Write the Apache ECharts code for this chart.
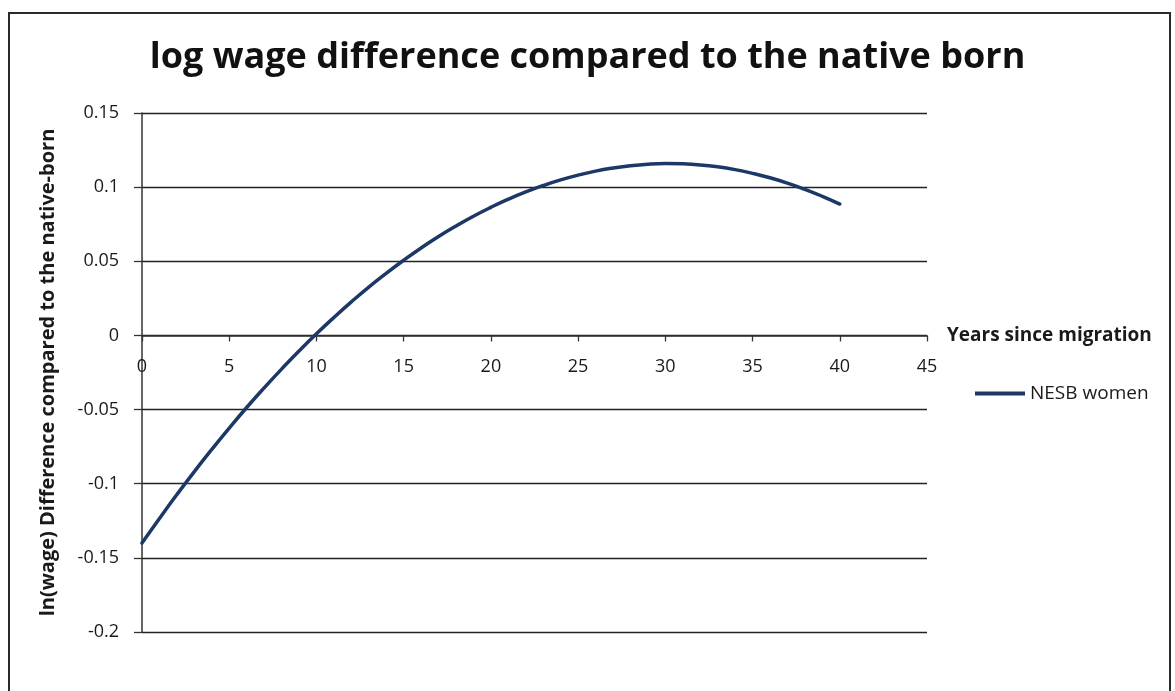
<!DOCTYPE html>
<html>
<head>
<meta charset="utf-8">
<title>log wage difference compared to the native born</title>
<script src="https://cdn.jsdelivr.net/npm/echarts@6/dist/echarts.min.js"></script>
<style>
  html, body { margin: 0; padding: 0; background: #ffffff; }
  #chart { width: 1175px; height: 691px; }
</style>
</head>
<body>
<div id="chart"></div>
<script>
// Years since migration (x values of the curve)
const yearsSinceMigration = [
  0, 1, 2, 3, 4, 5, 6, 7, 8, 9,
  10, 11, 12, 13, 14, 15, 16, 17, 18, 19,
  20, 21, 22, 23, 24, 25, 26, 27, 28, 29,
  30, 31, 32, 33, 34, 35, 36, 37, 38, 39, 40
];

// ln(wage) difference compared to the native-born, NESB women
const nesbWomen = [
  -0.1400, -0.1234, -0.1073, -0.0918, -0.0769, -0.0625, -0.0486, -0.0354, -0.0227, -0.0105,
  0.0011, 0.0121, 0.0226, 0.0326, 0.0419, 0.0507, 0.0590, 0.0667, 0.0738, 0.0804,
  0.0864, 0.0919, 0.0968, 0.1011, 0.1049, 0.1081, 0.1108, 0.1129, 0.1145, 0.1155,
  0.1159, 0.1157, 0.1150, 0.1137, 0.1118, 0.1093, 0.1063, 0.1027, 0.0985, 0.0938, 0.0886
];

// Axis ranges and tick steps
const xTicks = { min: 0, max: 45, step: 5 };
const yTicks = { min: -0.2, max: 0.15, step: 0.05 };

const seriesName = 'NESB women';
const chartTitle = 'log wage difference compared to the native born';
const xAxisTitle = 'Years since migration';
const yAxisTitle = 'ln(wage) Difference compared to the native-born';

const FONT = '"Open Sans", "Liberation Sans", sans-serif';
const INK = '#1a1a1a';

// plot box in pixels
const GRID = { left: 142, right: 248, top: 113, bottom: 59 };
const PLOT_H = 691 - GRID.top - GRID.bottom;

const chart = echarts.init(document.getElementById('chart'), null, { renderer: 'canvas' });

const points = yearsSinceMigration.map((x, i) => [x, nesbWomen[i]]);

// The horizontal axis sits on the zero line: shift it up from the bottom edge
const zeroShift = -PLOT_H * (0 - yTicks.min) / (yTicks.max - yTicks.min);

chart.setOption({
  backgroundColor: '#ffffff',
  animation: false,
  graphic: [
    {
      type: 'rect',
      z: -10,
      shape: { x: 9, y: 13, width: 1161, height: 700 },
      style: { fill: 'none', stroke: '#2a2a2a', lineWidth: 2 }
    }
  ],
  title: {
    text: chartTitle,
    left: 'center',
    top: 35,
    textStyle: {
      fontFamily: FONT,
      fontWeight: 'bold',
      fontSize: 36,
      color: '#111'
    }
  },
  legend: {
    left: 970,
    top: 379,
    orient: 'vertical',
    icon: 'rect',
    itemWidth: 50,
    itemHeight: 4,
    textStyle: { fontFamily: FONT, fontSize: 19, color: INK },
    data: [seriesName]
  },
  grid: {
    left: GRID.left,
    right: GRID.right,
    top: GRID.top,
    bottom: GRID.bottom,
    containLabel: false,
    outerBoundsMode: 'none'
  },
  xAxis: {
    type: 'value',
    position: 'bottom',
    offset: zeroShift,
    min: xTicks.min,
    max: xTicks.max,
    interval: xTicks.step,
    name: xAxisTitle,
    nameLocation: 'end',
    nameGap: 20,
    nameTextStyle: {
      fontFamily: FONT,
      fontWeight: 'bold',
      fontSize: 19,
      color: INK,
      align: 'left',
      verticalAlign: 'middle'
    },
    axisLine: { onZero: false, lineStyle: { color: '#333', width: 1.5 } },
    axisTick: { show: true, inside: false, length: 6, lineStyle: { color: '#333', width: 1.3 } },
    axisLabel: { fontFamily: FONT, fontSize: 18, color: INK, margin: 22 },
    splitLine: { show: false }
  },
  yAxis: {
    type: 'value',
    min: yTicks.min,
    max: yTicks.max,
    interval: yTicks.step,
    name: yAxisTitle,
    nameLocation: 'middle',
    nameGap: 84,
    nameTextStyle: {
      fontFamily: FONT,
      fontWeight: 'bold',
      fontSize: 20,
      color: INK
    },
    axisLine: { show: true, onZero: false, lineStyle: { color: '#333', width: 1.5 } },
    axisTick: { show: true, inside: false, length: 8, lineStyle: { color: '#333', width: 1.3 } },
    axisLabel: {
      fontFamily: FONT,
      fontSize: 18,
      color: INK,
      margin: 23,
      formatter: (v) => String(Math.round(v * 100) / 100)
    },
    splitLine: { show: true, lineStyle: { color: '#222', width: 1.3 } }
  },
  series: [
    {
      name: seriesName,
      type: 'line',
      data: points,
      smooth: 0.5,
      showSymbol: false,
      symbol: 'none',
      lineStyle: { color: '#1b3866', width: 3.5, cap: 'round' },
      itemStyle: { color: '#1b3866' }
    }
  ]
});
</script>
</body>
</html>
